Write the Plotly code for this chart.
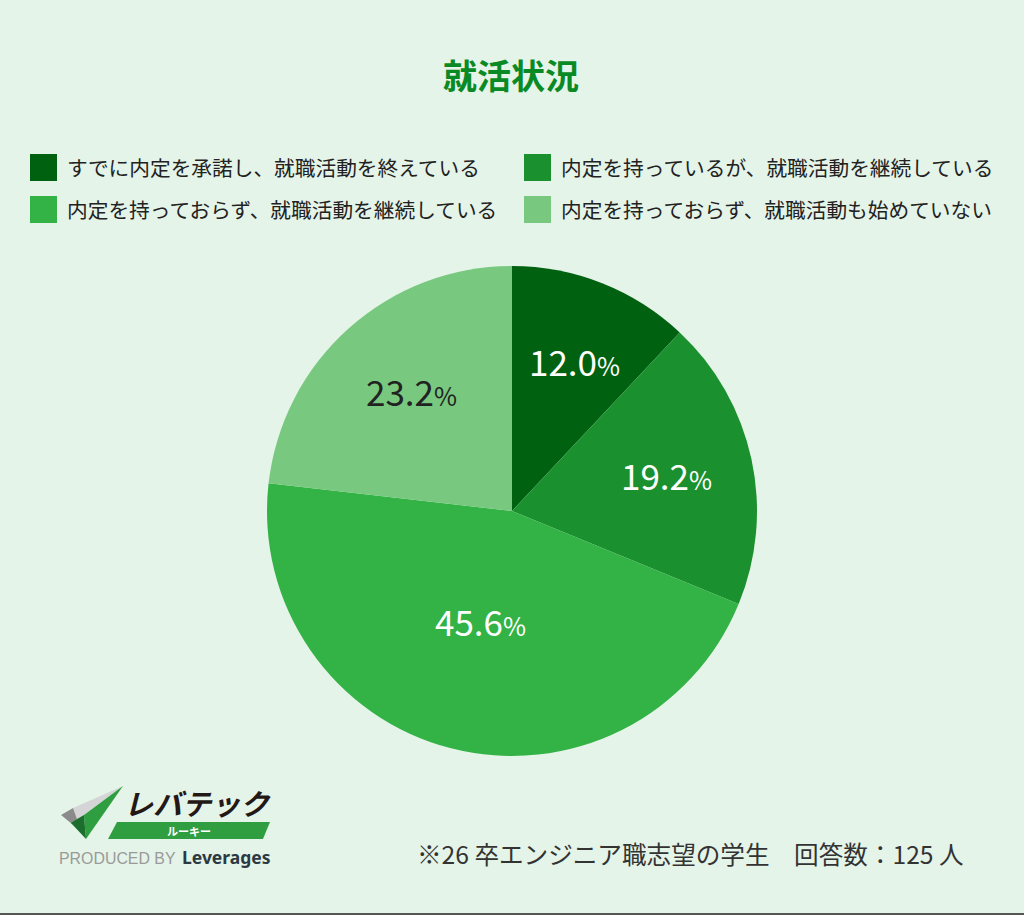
import plotly.graph_objects as go

# data
labels = ["すでに内定を承諾し、就職活動を終えている", "内定を持っているが、就職活動を継続している",
          "内定を持っておらず、就職活動を継続している", "内定を持っておらず、就職活動も始めていない"]
values = [12.0, 19.2, 45.6, 23.2]
colors = ["#006110", "#1b902e", "#33b245", "#78c97f"]
text_colors = ["white", "white", "white", "#222222"]

W = 1024
H = 915
BG = "#e5f4e8"
FONT = "Noto Sans CJK JP"


def px(x):
    return x / W


def py(y):
    return 1 - y / H


def poly(points, color):
    path = "M " + " L ".join(f"{px(x):.4f},{py(y):.4f}" for x, y in points) + " Z"
    return dict(type="path", xref="paper", yref="paper", path=path,
                fillcolor=color, line=dict(width=0), layer="above")


def label(x, y, text, size, color="#222222", anchor="left", **font_args):
    return dict(x=px(x), y=py(y), xref="paper", yref="paper", text=text, showarrow=False,
                xanchor=anchor, yanchor="middle", align=anchor,
                font=dict(family=font_args.pop("family", FONT), size=size, color=color, **font_args))


fig = go.Figure(go.Pie(
    labels=labels,
    values=values,
    sort=False,
    direction="clockwise",
    rotation=0,
    domain=dict(x=[px(267), px(757)], y=[py(756), py(266)]),
    marker=dict(colors=colors, line=dict(width=0)),
    textinfo="none",
    hoverinfo="label+percent",
    showlegend=False,
))

shapes = []
annotations = [label(511, 75, "<b>就活状況</b>", 34, "#0a8a25", "center")]

# percentages placed like the original, not where the pie trace would put them
text_x = [574, 666, 480, 411]
text_y = [360, 474, 620, 390]
for i in range(4):
    text = f"{values[i]:.1f}<span style='font-size:25px'>%</span>"
    annotations.append(label(text_x[i], text_y[i], text, 35, text_colors[i], "center"))

# legend drawn by hand, two columns like the original
swatch_x = [30, 524, 30, 524]
swatch_y = [154, 154, 196, 196]
for i in range(4):
    x = swatch_x[i]
    y = swatch_y[i]
    shapes.append(dict(type="rect", xref="paper", yref="paper", x0=px(x), x1=px(x + 27),
                       y0=py(y + 27), y1=py(y), fillcolor=colors[i], line=dict(width=0)))
    annotations.append(label(x + 35, y + 13, labels[i], 20.7))

# logo
shapes.append(poly([(73, 808), (123, 786), (84, 815), (77, 819)], "#d5d5d8"))
shapes.append(poly([(61, 815), (73, 808), (77, 819), (72, 824)], "#8b8b8b"))
shapes.append(poly([(84, 815), (123, 786), (86, 839)], "#2f9e41"))
shapes.append(poly([(77, 819), (84, 815), (86, 839), (71, 823)], "#1c6e2c"))
shapes.append(poly([(117, 822), (270, 822), (263, 839), (108, 839)], "#2f9e41"))
annotations.append(label(197, 802, "<b><i>レバテック</i></b>", 29, "#231815", "center"))
annotations.append(label(189, 831, "<b>ルーキー</b>", 11, "white", "center"))
annotations.append(label(57, 858, "PRODUCED BY", 15.9, "#9a9a9a", family="Liberation Sans"))
annotations.append(label(180, 857, "<b>Leverages</b>", 17.5, "#2b3a42", family="Noto Sans"))

annotations.append(label(415, 853, "※26 卒エンジニア職志望の学生　回答数：125 人", 24.6, "#333333"))

# bottom edge of the screenshot
shapes.append(dict(type="rect", xref="paper", yref="paper", x0=0, x1=1, y0=0, y1=py(913),
                   fillcolor="#555555", line=dict(width=0)))

fig.update_layout(
    width=W,
    height=H,
    autosize=False,
    margin=dict(l=0, r=0, t=0, b=0),
    paper_bgcolor=BG,
    plot_bgcolor=BG,
    font=dict(family=FONT),
    shapes=shapes,
    annotations=annotations,
)

fig.write_html("out.html", config={"displayModeBar": False},
               post_script="document.body.style.margin='0';")
